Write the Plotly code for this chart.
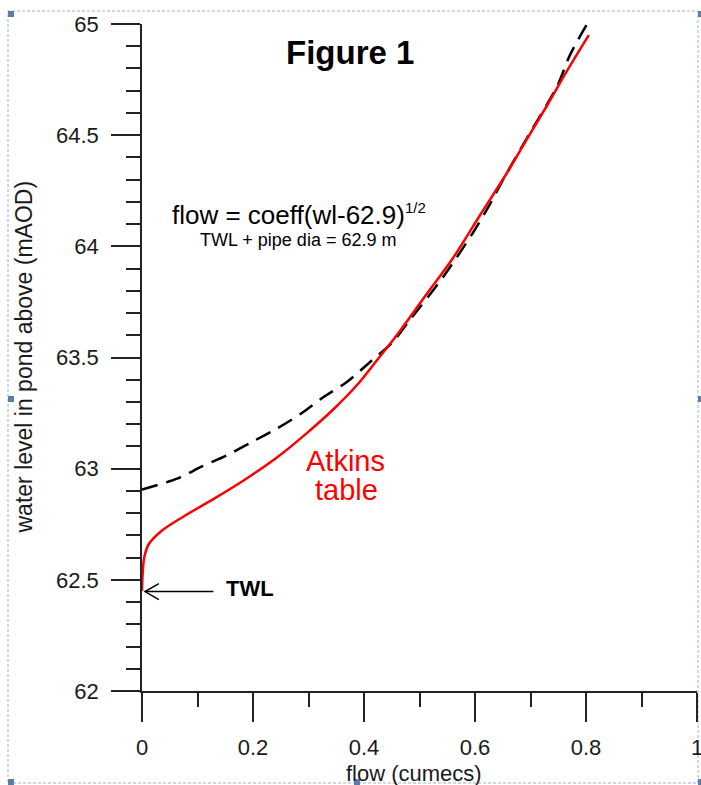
import plotly.graph_objects as go

# ---- data ----
atkins_flow = [0.000, 0.001, 0.004, 0.012, 0.035, 0.075, 0.130, 0.185, 0.243, 0.297,
               0.344, 0.387, 0.424, 0.459, 0.507, 0.561, 0.609, 0.660, 0.693, 0.729,
               0.766, 0.805]
atkins_wl = [62.45, 62.52, 62.60, 62.66, 62.72, 62.785, 62.865, 62.95, 63.05, 63.16,
             63.265, 63.375, 63.49, 63.60, 63.765, 63.95, 64.14, 64.34, 64.48, 64.63,
             64.79, 64.95]

formula_flow = [0.000, 0.063, 0.108, 0.153, 0.198, 0.243, 0.288, 0.326, 0.369, 0.411,
                0.452, 0.483, 0.542, 0.596, 0.627, 0.655, 0.699, 0.748, 0.771, 0.802]
formula_wl = [62.906, 62.955, 63.01, 63.06, 63.12, 63.18, 63.25, 63.32, 63.39, 63.48,
              63.57, 63.67, 63.86, 64.06, 64.19, 64.32, 64.51, 64.72, 64.86, 65.00]

x_ticks = [0, 0.2, 0.4, 0.6, 0.8, 1]
x_labels = ["0", "0.2", "0.4", "0.6", "0.8", "1"]
y_ticks = [62, 62.5, 63, 63.5, 64, 64.5, 65]
y_labels = ["62", "62.5", "63", "63.5", "64", "64.5", "65"]
twl_level = 62.447

FONT = "Liberation Sans, Arial, sans-serif"
W, H = 701, 785
L, R, T, B = 142, 4, 24, 94

def pxx(x):  # pixel -> paper x
    return (x - L) / (W - L - R)

def pxy(y):  # pixel -> paper y
    return (H - B - y) / (H - T - B)

fig = go.Figure()
fig.add_trace(go.Scatter(x=formula_flow, y=formula_wl, mode="lines",
                         line=dict(color="black", width=2.5, dash="16px,9px",
                                   shape="spline", smoothing=0.8),
                         hoverinfo="skip", showlegend=False))
fig.add_trace(go.Scatter(x=atkins_flow, y=atkins_wl, mode="lines",
                         line=dict(color="#ff0000", width=2.5, shape="spline", smoothing=0.9),
                         hoverinfo="skip", showlegend=False))

axis_common = dict(showgrid=False, zeroline=False, showline=True, linecolor="#222",
                   linewidth=1.5, ticks="outside", ticklen=29, tickwidth=1.5,
                   tickcolor="#222", mirror=False, automargin=False,
                   tickfont=dict(family=FONT, size=22, color="#1a1a1a"))

fig.update_xaxes(range=[0, 1], tickvals=x_ticks, ticktext=x_labels,
                 minor=dict(dtick=0.1, ticks="outside", ticklen=14, tickwidth=1.5, tickcolor="#222"),
                 ticklabelstandoff=7, ticklabeloverflow="allow", **axis_common)
fig.update_yaxes(range=[62, 65], tickvals=y_ticks, ticktext=y_labels,
                 minor=dict(dtick=0.1, ticks="outside", ticklen=14, tickwidth=1.5, tickcolor="#222"),
                 ticklabelstandoff=8, **axis_common)

ann = []
ann.append(dict(x=pxx(414), y=pxy(773), xref="paper", yref="paper", text="flow (cumecs)",
                showarrow=False, font=dict(family=FONT, size=22, color="#1a1a1a"),
                xanchor="center", yanchor="middle"))
ann.append(dict(x=pxx(23), y=0.5, xref="paper", yref="paper",
                text="water level in pond above (mAOD)", textangle=-90,
                showarrow=False, font=dict(family=FONT, size=23, color="#1a1a1a"),
                xanchor="center", yanchor="middle"))
ann.append(dict(x=0.375, y=64.874, xref="x", yref="y", text="<b>Figure 1</b>",
                showarrow=False, font=dict(family=FONT, size=33, color="black"),
                xanchor="center", yanchor="middle"))
ann.append(dict(x=0.0505, y=64.142, xref="x", yref="y",
                text="flow = coeff(wl-62.9)<sup><span style='font-size:15px'>1/2</span></sup>",
                showarrow=False, font=dict(family=FONT, size=26, color="black"),
                xanchor="left", yanchor="middle"))
ann.append(dict(x=0.101, y=64.029, xref="x", yref="y", text="TWL + pipe dia = 62.9 m",
                showarrow=False, font=dict(family=FONT, size=18, color="black"),
                xanchor="left", yanchor="middle"))
ann.append(dict(x=0.367, y=63.036, xref="x", yref="y", text="Atkins",
                showarrow=False, font=dict(family=FONT, size=29, color="#ff0000"),
                xanchor="center", yanchor="middle"))
ann.append(dict(x=0.369, y=62.906, xref="x", yref="y", text="table",
                showarrow=False, font=dict(family=FONT, size=29, color="#ff0000"),
                xanchor="center", yanchor="middle"))
ann.append(dict(x=0.148, y=twl_level + 0.012, xref="x", yref="y", text="<b>TWL</b>",
                showarrow=False, font=dict(family=FONT, size=22, color="black"),
                xanchor="left", yanchor="middle"))
# arrow shaft
ann.append(dict(x=0.0054, y=twl_level, ax=0.1315, ay=twl_level, xref="x", yref="y",
                axref="x", ayref="y", text="", showarrow=True, arrowhead=0,
                arrowwidth=1.5, arrowcolor="black"))

shapes = []
# open chevron arrow head
tipx, tipy = 0.0054, twl_level
shapes.append(dict(type="path", xref="x", yref="y",
                   path=f"M {tipx + 0.025} {tipy + 0.036} L {tipx} {tipy} L {tipx + 0.025} {tipy - 0.036}",
                   line=dict(color="black", width=1.5)))
# dashed selection frame
shapes.append(dict(type="rect", xref="paper", yref="paper",
                   x0=pxx(8), x1=pxx(698), y0=pxy(783), y1=pxy(11),
                   line=dict(color="#9db2cc", width=1, dash="3px,2px"),
                   fillcolor="rgba(0,0,0,0)", layer="below"))
for hx, hy in [(8, 11), (698, 11), (8, 396), (698, 396), (8, 779), (354, 779), (698, 779)]:
    shapes.append(dict(type="rect", xref="paper", yref="paper",
                       x0=pxx(hx), x1=pxx(hx + 6), y0=pxy(hy + 6), y1=pxy(hy),
                       line=dict(width=0), fillcolor="#5b7bab"))

fig.update_layout(width=W, height=H, margin=dict(l=L, r=R, t=T, b=B, autoexpand=False),
                  paper_bgcolor="white", plot_bgcolor="white",
                  annotations=ann, shapes=shapes, showlegend=False,
                  font=dict(family=FONT))

fig.write_html("out.html")
